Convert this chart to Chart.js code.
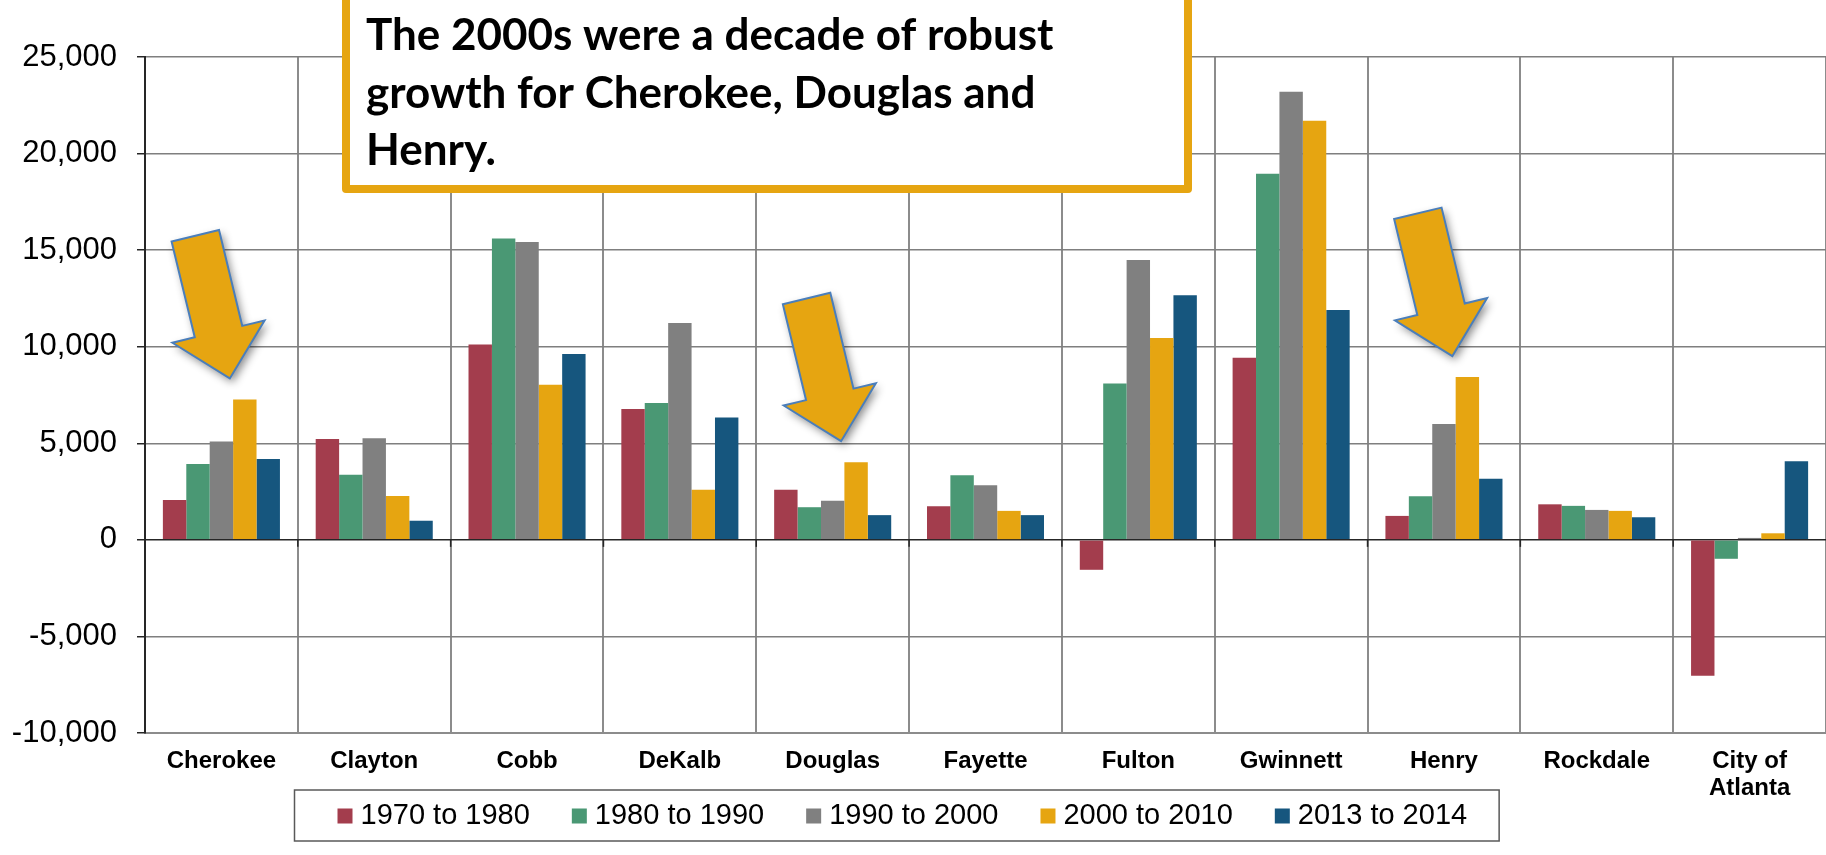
<!DOCTYPE html>
<html>
<head>
<meta charset="utf-8">
<title>Population growth by county</title>
<script src="https://cdn.jsdelivr.net/npm/chart.js@4.4.1/dist/chart.umd.min.js"></script>
<style>
  html, body { margin: 0; padding: 0; background: #ffffff; overflow: hidden; }
  #wrap { width: 1826px; height: 855px; position: relative; }
</style>
</head>
<body>
<div id="wrap"><canvas id="chart" width="1826" height="855"></canvas></div>
<script>
// Jurisdictions along the x axis (multi-line label for the city)
const counties = ['Cherokee', 'Clayton', 'Cobb', 'DeKalb', 'Douglas', 'Fayette',
                  'Fulton', 'Gwinnett', 'Henry', 'Rockdale', ['City of', 'Atlanta']];

// Average annual population change for each period
const seriesLabels = ['1970 to 1980', '1980 to 1990', '1990 to 2000', '2000 to 2010', '2013 to 2014'];
const change1970s = [2060, 5220, 10120, 6780, 2590, 1740, -1550, 9430, 1240, 1840, -7030];
const change1980s = [3930, 3370, 15600, 7090, 1690, 3340, 8100, 18950, 2260, 1760, -980];
const change1990s = [5090, 5260, 15420, 11230, 2020, 2830, 14490, 23200, 6000, 1550, 100];
const change2000s = [7270, 2270, 8030, 2600, 4020, 1500, 10450, 21700, 8430, 1500, 340];
const change2013 = [4190, 990, 9620, 6330, 1280, 1280, 12670, 11900, 3170, 1170, 4070];

// Value axis range and tick step
const yMin = -10000;
const yMax = 25000;
const yStep = 5000;

// Callout text and the counties it points at (arrows sit above their 2000s bar)
const calloutLines = ['The 2000s were a decade of robust', 'growth for Cherokee, Douglas and', 'Henry.'];
const highlighted = ['Cherokee', 'Douglas', 'Henry'];

const seriesColors = ['#A33D4D', '#4A9874', '#808080', '#E6A511', '#16567E'];
const FONT = '"Liberation Sans", Arial, Helvetica, sans-serif';

const seriesValues = [change1970s, change1980s, change1990s, change2000s, change2013];
const datasets = seriesLabels.map((label, i) => ({
  label: label,
  data: seriesValues[i],
  backgroundColor: seriesColors[i],
  borderWidth: 0,
  categoryPercentage: 0.766,
  barPercentage: 1.0
}));

// Orange callout box with bold text, partly running off the top edge
const calloutPlugin = {
  id: 'callout',
  afterDraw(chart) {
    const ctx = chart.ctx;
    ctx.save();
    const box = { left: 346, right: 1188, top: -20, bottom: 189 };
    ctx.fillStyle = '#ffffff';
    ctx.fillRect(box.left, box.top, box.right - box.left, box.bottom - box.top);
    ctx.strokeStyle = '#E6A511';
    ctx.lineWidth = 8;
    ctx.lineJoin = 'round';
    ctx.strokeRect(box.left, box.top, box.right - box.left, box.bottom - box.top);
    ctx.fillStyle = '#000000';
    ctx.font = 'bold 44px Lato, "Open Sans", sans-serif';
    ctx.textBaseline = 'alphabetic';
    ctx.textAlign = 'left';
    calloutLines.forEach((line, i) => {
      ctx.fillText(line, 366, 50 + i * 57.5);
    });
    ctx.restore();
  }
};

// Block arrows pointing down at the 2000-2010 bar of the highlighted counties
const arrowPlugin = {
  id: 'arrows',
  afterDatasetsDraw(chart) {
    const ctx = chart.ctx;
    const meta = chart.getDatasetMeta(3);
    const labels = chart.data.labels;
    highlighted.forEach(name => {
      const idx = labels.findIndex(l => l === name);
      if (idx < 0) return;
      const bar = meta.data[idx];
      drawArrow(ctx, bar.x - 15, bar.y - 21);
    });
  }
};

function drawArrow(ctx, tipX, tipY) {
  const shaftHalf = 24.4, headHalf = 47.4, headLen = 48.2, total = 146.8;
  const angle = -13.6 * Math.PI / 180;
  ctx.save();
  ctx.translate(tipX, tipY);
  ctx.rotate(angle);
  ctx.beginPath();
  ctx.moveTo(0, 0);
  ctx.lineTo(-headHalf, -headLen);
  ctx.lineTo(-shaftHalf, -headLen);
  ctx.lineTo(-shaftHalf, -total);
  ctx.lineTo(shaftHalf, -total);
  ctx.lineTo(shaftHalf, -headLen);
  ctx.lineTo(headHalf, -headLen);
  ctx.closePath();
  ctx.shadowColor = 'rgba(0,0,0,0.45)';
  ctx.shadowBlur = 8;
  ctx.shadowOffsetX = 3;
  ctx.shadowOffsetY = 4;
  ctx.fillStyle = '#E6A511';
  ctx.fill();
  ctx.shadowColor = 'transparent';
  ctx.lineWidth = 2;
  ctx.lineJoin = 'miter';
  ctx.strokeStyle = '#4A7EBB';
  ctx.stroke();
  ctx.restore();
}

// Short tick marks hanging under the zero line at category boundaries
const zeroTicksPlugin = {
  id: 'zeroTicks',
  afterDatasetsDraw(chart) {
    const ctx = chart.ctx;
    const x = chart.scales.x, y = chart.scales.y;
    const y0 = y.getPixelForValue(0);
    const n = chart.data.labels.length;
    ctx.save();
    ctx.strokeStyle = '#262626';
    ctx.lineWidth = 1.5;
    for (let i = 1; i < n; i++) {
      const px = (x.getPixelForTick(i - 1) + x.getPixelForTick(i)) / 2;
      ctx.beginPath();
      ctx.moveTo(px, y0);
      ctx.lineTo(px, y0 + 7);
      ctx.stroke();
    }
    ctx.restore();
  }
};

// Boxed legend row below the category labels
const boxedLegendPlugin = {
  id: 'boxedLegend',
  afterDraw(chart) {
    const ctx = chart.ctx;
    const left = 294.5, top = 790, bottom = 841;
    const cy = (top + bottom) / 2 + 0.5;
    ctx.save();
    ctx.font = '29px ' + FONT;
    ctx.textBaseline = 'middle';
    ctx.textAlign = 'left';
    let x = left + 43;
    let lastEnd = x;
    chart.data.datasets.forEach(ds => {
      ctx.fillStyle = ds.backgroundColor;
      ctx.fillRect(x, cy - 7.5, 15, 15);
      ctx.fillStyle = '#000000';
      ctx.fillText(ds.label, x + 23, cy);
      const w = ctx.measureText(ds.label).width;
      lastEnd = x + 23 + w;
      x = lastEnd + 42;
    });
    ctx.strokeStyle = '#595959';
    ctx.lineWidth = 1.5;
    ctx.strokeRect(left, top, lastEnd + 32 - left, bottom - top);
    ctx.restore();
  }
};

Chart.defaults.font.family = FONT;

new Chart(document.getElementById('chart'), {
  type: 'bar',
  data: { labels: counties, datasets: datasets },
  options: {
    responsive: false,
    animation: false,
    layout: { padding: { top: 57, right: 0, bottom: 0, left: 0 } },
    plugins: {
      legend: { display: false },
      tooltip: { enabled: false }
    },
    scales: {
      x: {
        grid: { offset: true, color: '#8c8c8c', lineWidth: 2, drawTicks: false },
        border: { color: '#8c8c8c', width: 2 },
        ticks: {
          color: '#000000',
          font: { size: 24, weight: 'bold', lineHeight: 1.12 },
          padding: 15,
          maxRotation: 0,
          autoSkip: false
        },
        afterFit(scale) { scale.height = 122; }
      },
      y: {
        min: yMin,
        max: yMax,
        ticks: {
          stepSize: yStep,
          color: '#000000',
          font: { size: 31 },
          padding: 20,
          callback: v => Number(v).toLocaleString('en-US')
        },
        grid: {
          color: c => (c.tick && c.tick.value === 0) ? '#262626' : '#7f7f7f',
          lineWidth: 1.5,
          tickLength: 8,
          tickColor: '#262626',
          tickWidth: 1.5
        },
        border: { color: '#262626', width: 2 },
        afterFit(scale) { scale.width = 145; }
      }
    }
  },
  plugins: [arrowPlugin, zeroTicksPlugin, calloutPlugin, boxedLegendPlugin]
});
</script>
</body>
</html>
